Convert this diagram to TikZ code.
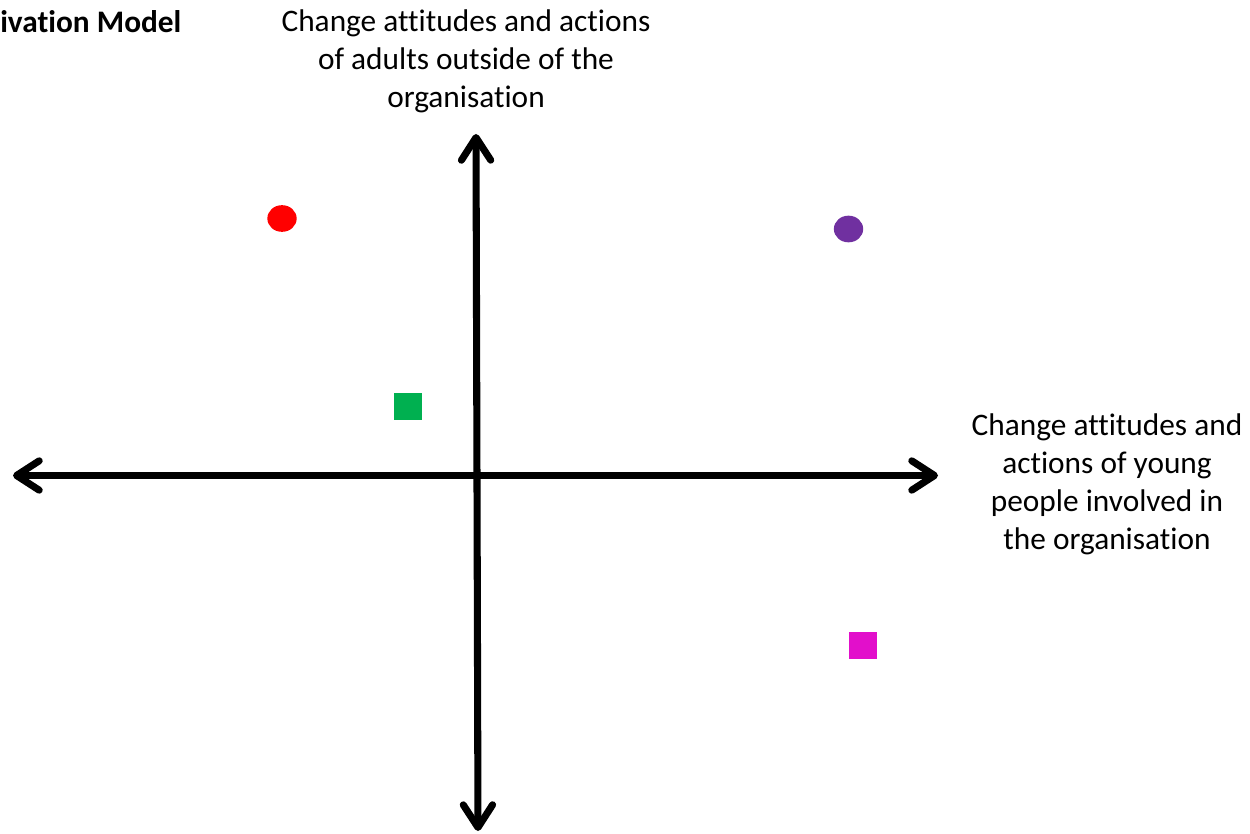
\documentclass[tikz,border=0pt]{standalone}
\usepackage{fontspec}
\setmainfont{Carlito}[Ligatures=NoCommon]
\usetikzlibrary{arrows.meta,positioning,shapes.geometric}
\definecolor{dotred}{HTML}{FF0000}
\definecolor{dotpurple}{HTML}{7030A0}
\definecolor{boxgreen}{HTML}{00B050}
\definecolor{boxmagenta}{HTML}{E20FCB}

\begin{document}
\begin{tikzpicture}[x=0.75pt, y=-0.75pt,
  axis/.style={line width=5.3pt, line cap=round,
    {Straight Barb[length=17pt, width=22pt, line cap=round, line join=round]}-{Straight Barb[length=17pt, width=22pt, line cap=round, line join=round]}},
  label/.style={align=center, font=\fontsize{23.5}{28.5}\selectfont, inner sep=0pt},
  dot/.style={ellipse, minimum width=22pt, minimum height=20pt, inner sep=0pt},
  box/.style={rectangle, minimum width=21pt, minimum height=20pt, inner sep=0pt}]
  \useasboundingbox (0,0) rectangle (1250,834);

  % Axis end points
  \coordinate (west)  at (13,475.5);
  \coordinate (east)  at (938,475.5);
  \coordinate (north) at (476,134);
  \coordinate (south) at (478,831);

  % Axes
  \draw[axis] (west) -- (east);
  \draw[axis] (north) -- (south);

  % Axis labels
  \node[label] (adults) at (466,61) {Change attitudes and actions\\of adults outside of the\\organisation};
  \node[label] (young) at (1107,484) {Change attitudes and\\actions of young\\people involved in\\the organisation};

  % Title (cut at the left edge)
  \node[label, anchor=west, font=\fontsize{23.5}{28}\selectfont\bfseries] (title) at (0,22) {ivation Model};

  % Markers
  \node[dot, fill=dotred]    (reddot)    at (282,218.5) {};
  \node[dot, fill=dotpurple] (purpledot) at (848.5,229) {};
  \node[box, fill=boxgreen]  (greenbox)  at (407.5,406.5) {};
  \node[box, fill=boxmagenta] (magentabox) at (863,645.5) {};
\end{tikzpicture}
\end{document}
